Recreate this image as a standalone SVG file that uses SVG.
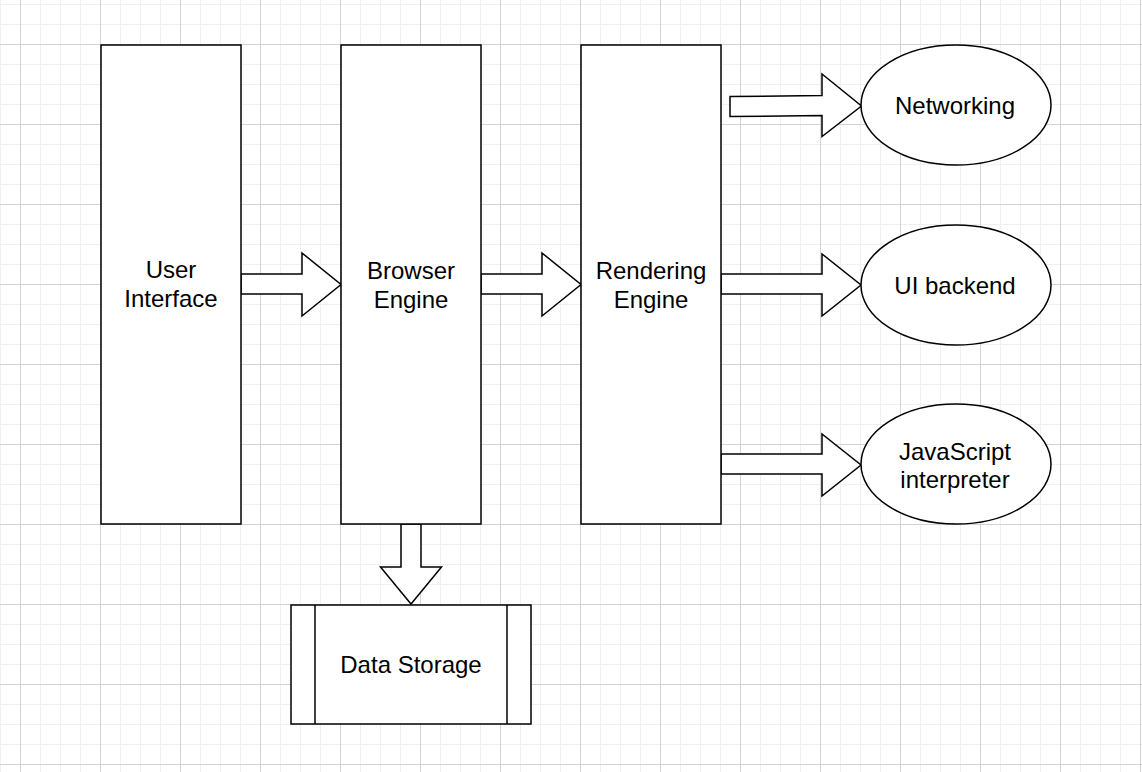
<svg xmlns="http://www.w3.org/2000/svg" width="1142" height="772" viewBox="0 0 1142 772">
<defs>
<pattern id="grid" patternUnits="userSpaceOnUse" x="20" y="44" width="80" height="80">
<rect x="20" y="0" width="1" height="80" fill="#f0f0f0"/>
<rect x="40" y="0" width="1" height="80" fill="#f0f0f0"/>
<rect x="60" y="0" width="1" height="80" fill="#f0f0f0"/>
<rect x="0" y="20" width="80" height="1" fill="#f0f0f0"/>
<rect x="0" y="40" width="80" height="1" fill="#f0f0f0"/>
<rect x="0" y="60" width="80" height="1" fill="#f0f0f0"/>
<rect x="0" y="0" width="1" height="80" fill="#d3d3d3"/>
<rect x="0" y="0" width="80" height="1" fill="#d3d3d3"/>
</pattern>
</defs>
<style>
.shape{fill:#ffffff;stroke:#000000;stroke-width:1.5}
.arrow{fill:#ffffff;stroke:#000000;stroke-width:1.5;stroke-linejoin:miter}
.label{font-family:"Liberation Sans",Arial,Helvetica,sans-serif;font-size:24px;fill:#000000;text-anchor:middle}
</style>
<rect x="0" y="0" width="1142" height="772" fill="#ffffff"/>
<rect x="0" y="0" width="1142" height="772" fill="url(#grid)"/>

<g id="connectors">
<polygon class="arrow" points="241,274 302,274 302,253 341,284.5 302,316 302,294 241,294"/>
<polygon class="arrow" points="481,274 542,274 542,253 581,284.5 542,316 542,294 481,294"/>
<polygon class="arrow" points="721,274 822,274 822,254 861,285 822,316 822,294 721,294"/>
<polygon class="arrow" points="730,96.5 822,95.5 822,74 861.5,106 822,136.5 822,115.5 730,116.5"/>
<polygon class="arrow" points="721,454 822,454 822,434 861,465 822,496 822,474 721,474"/>
<polygon class="arrow" points="401,524 421,524 421,567 441.5,567 411,604 380.5,567 401,567"/>
</g>

<g id="user-interface">
<rect class="shape" x="101" y="45" width="140" height="479"/>
<text class="label" x="171" y="278">User</text>
<text class="label" x="171" y="307">Interface</text>
</g>

<g id="browser-engine">
<rect class="shape" x="341" y="45" width="140" height="479"/>
<text class="label" x="411" y="279">Browser</text>
<text class="label" x="411" y="308">Engine</text>
</g>

<g id="rendering-engine">
<rect class="shape" x="581" y="45" width="140" height="479"/>
<text class="label" x="651" y="279">Rendering</text>
<text class="label" x="651" y="308">Engine</text>
</g>

<g id="networking">
<ellipse class="shape" cx="956" cy="105" rx="95" ry="60"/>
<text class="label" x="955" y="114">Networking</text>
</g>

<g id="ui-backend">
<ellipse class="shape" cx="956" cy="285" rx="95" ry="60"/>
<text class="label" x="955" y="294">UI backend</text>
</g>

<g id="javascript-interpreter">
<ellipse class="shape" cx="956" cy="464" rx="95" ry="60"/>
<text class="label" x="955" y="460">JavaScript</text>
<text class="label" x="955" y="488">interpreter</text>
</g>

<g id="data-storage">
<rect class="shape" x="291" y="605" width="240" height="119"/>
<line class="shape" x1="315" y1="605" x2="315" y2="724"/>
<line class="shape" x1="507" y1="605" x2="507" y2="724"/>
<text class="label" x="411" y="673">Data Storage</text>
</g>
</svg>
